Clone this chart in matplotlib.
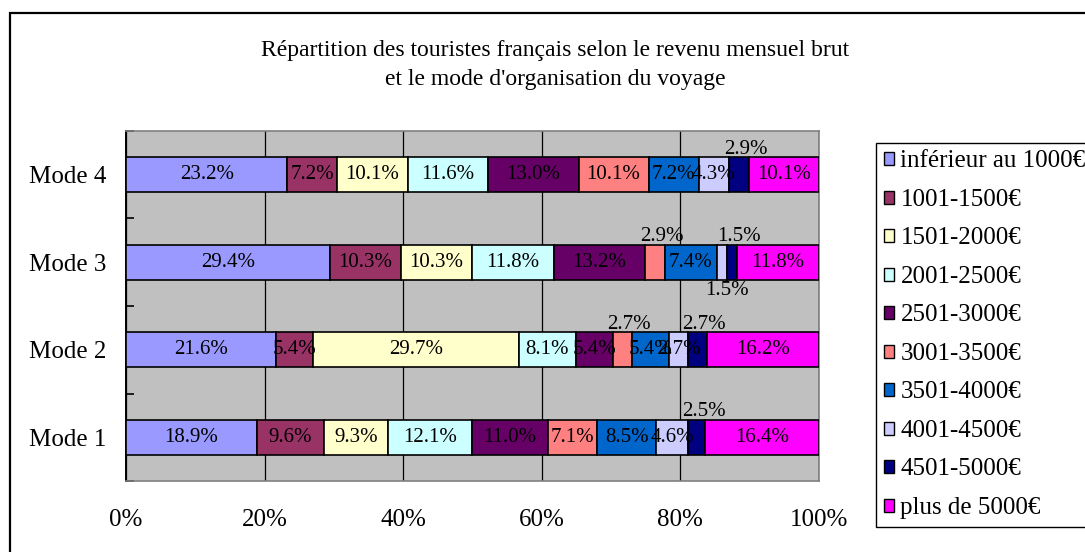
import matplotlib
matplotlib.use("Agg")
import matplotlib.pyplot as plt
from matplotlib.patches import Patch, Rectangle
import numpy as np

plt.rcParams['font.family'] = ['Liberation Serif', 'DejaVu Serif']

# ---- data -------------------------------------------------------------
modes = ["Mode 1", "Mode 2", "Mode 3", "Mode 4"]
income_brackets = [
    "inférieur au 1000€", "1001-1500€", "1501-2000€", "2001-2500€",
    "2501-3000€", "3001-3500€", "3501-4000€", "4001-4500€",
    "4501-5000€", "plus de 5000€",
]
# share (%) of each income bracket, one list per mode (Mode 1 .. Mode 4)
mode1 = [18.9, 9.6, 9.3, 12.1, 11.0, 7.1, 8.5, 4.6, 2.5, 16.4]
mode2 = [21.6, 5.4, 29.7, 8.1, 5.4, 2.7, 5.4, 2.7, 2.7, 16.2]
mode3 = [29.4, 10.3, 10.3, 11.8, 13.2, 2.9, 7.4, 1.5, 1.5, 11.8]
mode4 = [23.2, 7.2, 10.1, 11.6, 13.0, 10.1, 7.2, 4.3, 2.9, 10.1]
x_tick_labels = ["0%", "20%", "40%", "60%", "80%", "100%"]

colors = ["#9999FF", "#993366", "#FFFFCC", "#CCFFFF", "#660066",
          "#FF8080", "#0066CC", "#CCCCFF", "#000080", "#FF00FF"]

# labels of thin segments that sit outside the bar: (mode index, bracket index) -> side
outside_labels = {
    (3, 8): "above",
    (2, 5): "above", (2, 8): "above", (2, 7): "below",
    (1, 5): "above", (1, 8): "above",
    (0, 8): "above",
}

values = np.array([mode1, mode2, mode3, mode4])
shares = values / values.sum(axis=1, keepdims=True) * 100  # 100 % stacked

# ---- figure -----------------------------------------------------------
W, H = 1085, 552
fig = plt.figure(figsize=(W / 100, H / 100), dpi=100)

# outer chart frame
fig.patches.append(Rectangle((10 / W, -0.1), 1.2, 1 - 13 / H + 0.1,
                             transform=fig.transFigure, fill=False,
                             edgecolor="black", linewidth=1.6, zorder=0))

ax = fig.add_axes([126 / W, 1 - 481 / H, (819 - 126) / W, (481 - 131) / H])
ax.set_facecolor("#C0C0C0")

y = np.arange(len(modes))
bar_h = 0.4
lab_fs = 15
left = np.zeros(len(modes))
for j, (name, col) in enumerate(zip(income_brackets, colors)):
    w = shares[:, j]
    ax.barh(y, w, left=left, height=bar_h, color=col, edgecolor="black",
            linewidth=1.2, label=name, zorder=3)
    for i in range(len(modes)):
        cx = left[i] + w[i] / 2
        side = outside_labels.get((i, j))
        txt = f"{values[i, j]:.1f}%"
        if side == "above":
            ax.annotate(txt, (cx, y[i] + bar_h / 2), xytext=(5, -1),
                        textcoords="offset points", ha="center", va="bottom",
                        fontsize=lab_fs, zorder=5)
        elif side == "below":
            ax.annotate(txt, (cx, y[i] - bar_h / 2), xytext=(4, -1),
                        textcoords="offset points", ha="center", va="top",
                        fontsize=lab_fs, zorder=5)
        else:
            ax.text(cx, y[i], txt, ha="center", va="center", fontsize=lab_fs,
                    zorder=5)
    left = left + w

ax.set_xlim(0, 100)
ax.set_ylim(-0.5, len(modes) - 0.5)

ax.set_xticks(np.linspace(0, 100, len(x_tick_labels)))
ax.set_xticklabels(x_tick_labels, fontsize=18)
ax.tick_params(axis="x", length=0, pad=20)
ax.xaxis.grid(True, color="black", linewidth=0.9, zorder=1)
ax.set_axisbelow(True)

ax.set_yticks(y)
ax.set_yticklabels(modes, fontsize=18)
ax.set_yticks(np.arange(-0.5, len(modes)), minor=True)
ax.tick_params(axis="y", which="major", length=0, pad=14)
ax.tick_params(axis="y", which="minor", direction="in", length=6,
               width=1.2, color="black")

for side in ("top", "right", "bottom"):
    ax.spines[side].set_color("#808080")
    ax.spines[side].set_linewidth(1.2)
ax.spines["left"].set_color("black")
ax.spines["left"].set_linewidth(1.4)

fig.text(555 / W, 1 - 65 / H,
         "Répartition des touristes français selon le revenu mensuel brut\n"
         "et le mode d'organisation du voyage",
         ha="center", va="center", fontsize=17, linespacing=1.45)

handles = [Patch(facecolor=c, edgecolor="black", linewidth=1) for c in colors]
leg = fig.legend(handles, income_brackets, loc="upper left",
                 bbox_to_anchor=(876 / W, 1 - 143 / H), fontsize=18,
                 frameon=True, fancybox=False, framealpha=1,
                 edgecolor="black", handlelength=0.42, handleheight=0.42,
                 handletextpad=0.26, labelspacing=0.66, borderpad=0.3,
                 borderaxespad=0)
leg.get_frame().set_linewidth(1.0)

fig.savefig("out.png", dpi=100)
